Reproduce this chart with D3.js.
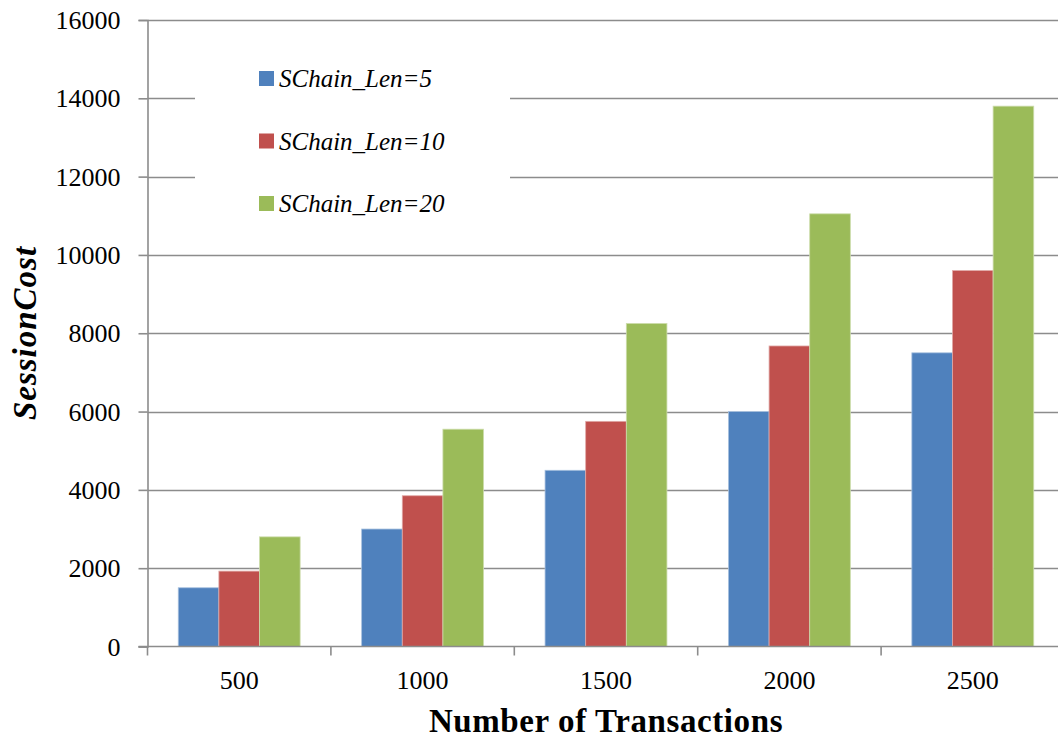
<!DOCTYPE html>
<html><head><meta charset="utf-8">
<script src="https://cdn.jsdelivr.net/npm/d3@7"></script>
<style>body{margin:0;background:#fff;} svg{display:block;}</style>
</head><body>
<svg id="chart" width="1058" height="738"></svg>
<script>
const categories = ["500","1000","1500","2000","2500"];
const seriesNames = ["SChain_Len=5","SChain_Len=10","SChain_Len=20"];
const len5  = [1500, 3000, 4500, 6000, 7500];
const len10 = [1925, 3850, 5750, 7675, 9600];
const len20 = [2800, 5550, 8250, 11050, 13800];
const yTicks = [0,2000,4000,6000,8000,10000,12000,14000,16000];
const colors = ["#4F81BD","#C0504D","#9BBB59"];
const edges = ["#A7C0DE","#E0A8A6","#CDDDAC"];

const seriesValues = [len5, len10, len20];
const svg = d3.select("#chart");
const mLeft = 147.5, mTop = 20, mBottom = 646.5, mRight = 1064.5;
const font = "'Liberation Serif', serif";

const y = d3.scaleLinear().domain([0,16000]).range([mBottom, mTop]);
const x0 = d3.scaleBand().domain(categories).range([mLeft, mRight]).paddingInner(0).paddingOuter(0);
const x1 = d3.scaleBand().domain(d3.range(3)).range([0, x0.bandwidth()]).paddingInner(0).paddingOuter(0.757);

// gridlines
svg.append("g").selectAll("line").data(yTicks.filter(d=>d>0)).join("line")
  .attr("x1", mLeft).attr("x2", 1058)
  .attr("y1", d=>Math.round(y(d))+0.5).attr("y2", d=>Math.round(y(d))+0.5)
  .attr("stroke","#8c8c8c").attr("stroke-width",1.6);

// bars
const groups = svg.append("g").selectAll("g").data(categories).join("g")
  .attr("transform", d=>`translate(${x0(d)},0)`);
groups.selectAll("rect").data((c,i)=>seriesValues.map((s,k)=>({k, v:s[i]}))).join("rect")
  .attr("x", d=>x1(d.k)).attr("width", x1.bandwidth())
  .attr("y", d=>y(d.v)).attr("height", d=>y(0)-y(d.v))
  .attr("fill", d=>colors[d.k]).attr("stroke", d=>edges[d.k]).attr("stroke-width",0.8);

// legend box (covers gridlines)
const lg = svg.append("g");
lg.append("rect").attr("x",195).attr("y",40).attr("width",315).attr("height",195).attr("fill","#fff");
seriesNames.forEach((n,i)=>{
  const cy = 78.5 + i*62.5;
  lg.append("rect").attr("x",259).attr("y",cy-7.5).attr("width",15).attr("height",15).attr("fill",colors[i]);
  lg.append("text").attr("x",279).attr("y",cy+8.5).text(n)
    .attr("font-family",font).attr("font-style","italic").attr("font-size",25).attr("fill","#000");
});

// y axis
const yAxis = d3.axisLeft(y).tickValues(yTicks).tickSize(9).tickPadding(18).tickFormat(d3.format("d"));
const ya = svg.append("g").attr("transform",`translate(${mLeft},0)`).call(yAxis);
ya.select(".domain").attr("stroke","#8c8c8c").attr("stroke-width",1.6);
ya.selectAll(".tick line").attr("stroke","#8c8c8c").attr("stroke-width",1.6);
ya.selectAll("text").attr("font-family",font).attr("font-size",26).attr("fill","#000").attr("dy","0.33em");

// x axis
const xAxis = d3.axisBottom(x0).tickSize(0).tickPadding(24);
const xa = svg.append("g").attr("transform",`translate(0,${mBottom})`).call(xAxis);
xa.select(".domain").attr("stroke","#8c8c8c").attr("stroke-width",1.6).attr("d",`M${mLeft-9},0H${mRight}`);
xa.selectAll("text").attr("font-family",font).attr("font-size",26).attr("fill","#000");
xa.append("g").selectAll("line").data(categories.concat(["_end"])).join("line")
  .attr("x1",(d,i)=>mLeft + i*x0.step()).attr("x2",(d,i)=>mLeft + i*x0.step())
  .attr("y1",0).attr("y2",9).attr("stroke","#8c8c8c").attr("stroke-width",1.6);

// axis titles
svg.append("text").attr("x",606).attr("y",732).attr("text-anchor","middle")
  .attr("font-family",font).attr("font-weight","bold").attr("font-size",33).attr("letter-spacing",0.6).attr("fill","#000")
  .text("Number of Transactions");
svg.append("text").attr("transform","translate(36,333) rotate(-90)").attr("text-anchor","middle")
  .attr("font-family",font).attr("font-weight","bold").attr("font-style","italic").attr("font-size",33).attr("letter-spacing",1).attr("fill","#000")
  .text("SessionCost");
</script>
</body></html>
